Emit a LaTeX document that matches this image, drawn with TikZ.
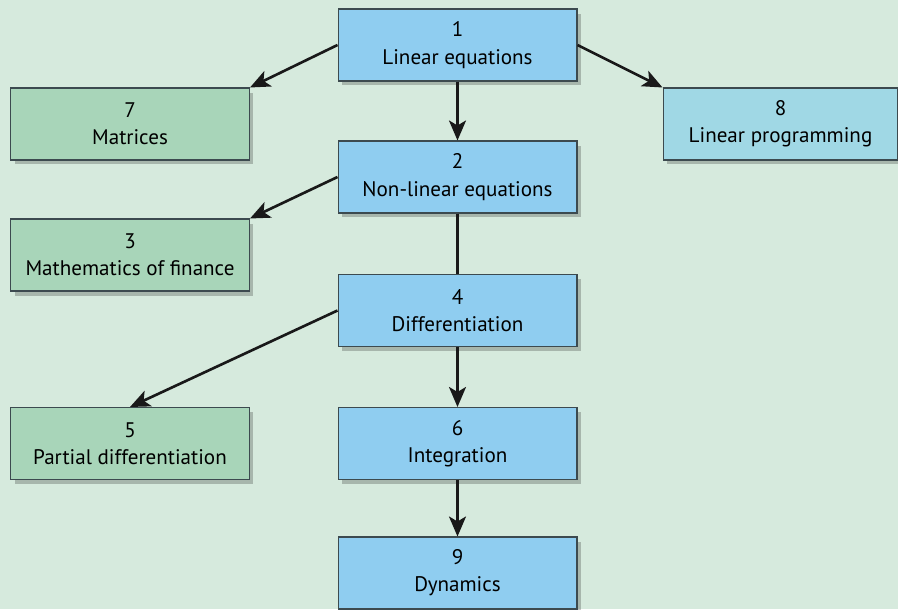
\documentclass[tikz,border=0pt]{standalone}
\usepackage{fontspec}
\setmainfont{PT Sans}
\usepackage{tikz}
\usetikzlibrary{arrows.meta,shadows}
\definecolor{bgcol}{HTML}{D6EADD}
\definecolor{bluebox}{HTML}{8FCDF0}
\definecolor{greenbox}{HTML}{A8D5B9}
\definecolor{cyanbox}{HTML}{A0D8E5}
\definecolor{edgecol}{HTML}{3C4A4F}
\begin{document}
\begin{tikzpicture}[x=0.02cm, y=-0.02cm,
  topic/.style={rectangle, draw=edgecol, line width=0.6pt, minimum width=4.78cm, minimum height=1.44cm, align=center, font=\fontsize{12}{15.5}\selectfont, drop shadow={shadow xshift=0.8mm, shadow yshift=-0.9mm, opacity=0.22, fill=black}},
  plain/.style={line width=1.5pt, black!90},
  link/.style={plain, -{Stealth[length=4mm, width=3.4mm, inset=1mm]}}]
\path[use as bounding box, fill=bgcol] (0,0) rectangle (898,609);
\node[topic, fill=bluebox] (lin) at (457.5,45) {1\\Linear equations};
\node[topic, fill=greenbox] (mat) at (130,124) {7\\Matrices};
\node[topic, fill=cyanbox, minimum width=4.7cm] (prog) at (780.5,124) {8\\Linear programming};
\node[topic, fill=bluebox] (nonlin) at (457.5,177) {2\\Non-linear equations};
\node[topic, fill=greenbox] (fin) at (130,255) {3\\Mathematics of finance};
\node[topic, fill=bluebox] (diff) at (457.5,310.5) {4\\Differentiation};
\node[topic, fill=greenbox] (pdiff) at (130,443.5) {5\\Partial differentiation};
\node[topic, fill=bluebox] (integ) at (457.5,443.5) {6\\Integration};
\node[topic, fill=bluebox] (dyn) at (457.5,573) {9\\Dynamics};
% links
\draw[link] (lin.west) -- (mat.north east);
\draw[link] (lin.east) -- (prog.north west);
\draw[link] (lin) -- (nonlin);
\draw[link] (nonlin.west) -- (fin.north east);
\draw[plain] (nonlin) -- (diff);
\draw[link] (diff.west) -- (pdiff.north);
\draw[link] (diff) -- (integ);
\draw[link] (integ) -- (dyn);
\end{tikzpicture}
\end{document}
